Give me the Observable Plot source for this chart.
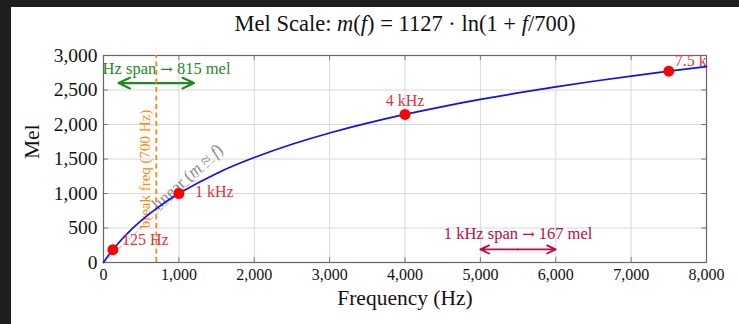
<!DOCTYPE html>
<html>
<head>
<meta charset="utf-8">
<script src="https://cdn.jsdelivr.net/npm/d3@7"></script>
<script src="https://cdn.jsdelivr.net/npm/@observablehq/plot@0.6"></script>
<style>
  html, body { margin: 0; padding: 0; background: #1e1e1e; }
  #wrap { position: absolute; left: 11px; top: 7px; width: 728px; height: 317px; background: white; }
  svg { overflow: visible; }
</style>
</head>
<body>
<div id="wrap"></div>
<script>
// Curve samples (Hz -> mel)
const freqHz = [0, 50, 125, 250, 375, 500, 700, 1000, 1500, 2000, 2500, 3000, 3500, 4000, 4500, 5000, 5500, 6000, 6500, 7000, 7500, 8000];
const melVal = [0, 78, 185, 344, 484, 607, 781, 1000, 1291, 1521, 1713, 1877, 2019, 2146, 2260, 2364, 2458, 2546, 2627, 2702, 2773, 2840];

// Highlighted points
const ptFreq = [125, 1000, 4000, 7500];
const ptMel = [185, 1000, 2146, 2773];
const ptLabel = ["125 Hz", "1 kHz", "4 kHz", "7.5 kHz"];

// Ticks
const xTicks = [0, 1000, 2000, 3000, 4000, 5000, 6000, 7000, 8000];
const yTicks = [0, 500, 1000, 1500, 2000, 2500, 3000];

// Annotations
const breakFreq = 700;
const linearRef = [{f: 0, m: 0}, {f: 1500, m: 1500}];
const greenSpan = {f0: 200, f1: 1200, m: 2600, label: "1 kHz span → 815 mel"};
const purpleSpan = {f0: 5000, f1: 6000, m: 190, label: "1 kHz span → 167 mel"};

const titleText = "Mel Scale: m(f) = 1127 · ln(1 + f/700)";
const linearText = "linear (m ≈ f)";

const curve = freqHz.map((f, i) => ({f, m: melVal[i]}));
const pts = ptFreq.map((f, i) => ({f, m: ptMel[i], label: ptLabel[i]}));

const RED_T = "#e0343c";
const GREEN = "#1f8a1f";
const ORANGE = "#ff8a10";
const PURPLE = "#bf0a4a";
const fmt = d3.format(",");

const labelOpts = [
  {dx: 9, dy: -10, textAnchor: "start"},
  {dx: 16, dy: -2, textAnchor: "start"},
  {dx: 0, dy: -14, textAnchor: "middle"},
  {dx: 6, dy: -10, textAnchor: "start"}
];

const chart = Plot.plot({
  width: 728,
  height: 317,
  marginLeft: 92,
  marginRight: 33,
  marginTop: 48,
  marginBottom: 62,
  style: {fontFamily: "'Liberation Serif', serif", background: "white", color: "#111"},
  x: {type: "linear", domain: [0, 8000]},
  y: {type: "linear", domain: [0, 3000]},
  marks: [
    Plot.gridX(xTicks, {stroke: "#d8d8d8", strokeOpacity: 1}),
    Plot.gridY(yTicks, {stroke: "#d8d8d8", strokeOpacity: 1}),
    Plot.axisX(xTicks, {tickSize: 0, tickPadding: 6, fontSize: 16, tickFormat: fmt, label: null}),
    Plot.axisY(yTicks, {tickSize: 0, tickPadding: 6, fontSize: 19.5, tickFormat: fmt, label: null}),
    // inner tick marks
    Plot.ruleX(xTicks, {y1: 0, y2: 70, stroke: "#777"}),
    Plot.ruleX(xTicks, {y1: 2930, y2: 3000, stroke: "#777"}),
    Plot.ruleY(yTicks, {x1: 0, x2: 65, stroke: "#777"}),
    Plot.ruleY(yTicks, {x1: 7935, x2: 8000, stroke: "#777"}),
    Plot.frame({stroke: "#666", strokeWidth: 1.2}),
    // linear reference
    Plot.line(linearRef, {x: "f", y: "m", stroke: "#aaa", strokeWidth: 1, strokeDasharray: "4,3"}),
    Plot.text([linearText], {x: 1110, y: 1240, rotate: -42, fill: "#8a8a8a", fontSize: 17}),
    // green span annotation
    Plot.arrow([greenSpan], {x1: d => (d.f0 + d.f1) / 2, x2: "f0", y1: "m", y2: "m", stroke: GREEN, strokeWidth: 2.2, headLength: 9, headAngle: 50}),
    Plot.arrow([greenSpan], {x1: d => (d.f0 + d.f1) / 2, x2: "f1", y1: "m", y2: "m", stroke: GREEN, strokeWidth: 2.2, headLength: 9, headAngle: 50}),
    Plot.text([greenSpan], {x: d => (d.f0 + d.f1) / 2, y: 2810, text: "label", fill: GREEN, fontSize: 16.5, clip: "frame"}),
    // break frequency
    Plot.ruleX([breakFreq], {y1: 0, y2: 3000, stroke: ORANGE, strokeWidth: 1.8, strokeDasharray: "5,3.5"}),
    Plot.text(["break freq (700 Hz)"], {x: 555, y: 1355, rotate: -90, fill: ORANGE, fontSize: 15}),
    // purple span annotation
    Plot.arrow([purpleSpan], {x1: d => (d.f0 + d.f1) / 2, x2: "f0", y1: "m", y2: "m", stroke: PURPLE, strokeWidth: 1.8, headLength: 8, headAngle: 50}),
    Plot.arrow([purpleSpan], {x1: d => (d.f0 + d.f1) / 2, x2: "f1", y1: "m", y2: "m", stroke: PURPLE, strokeWidth: 1.8, headLength: 8, headAngle: 50}),
    Plot.text([purpleSpan], {x: d => (d.f0 + d.f1) / 2, y: 420, text: "label", fill: PURPLE, fontSize: 16.5}),
    // mel curve
    Plot.line(curve, {x: "f", y: "m", stroke: "#1010ee", strokeWidth: 1.7, curve: "natural"}),
    Plot.dot(pts, {x: "f", y: "m", r: 5.5, fill: "#ff0000", stroke: "none"}),
    ...pts.map((p, i) => Plot.text([p], {x: "f", y: "m", text: "label", fill: RED_T, fontSize: 16, clip: "frame", ...labelOpts[i]})),
    // axis labels and title
    Plot.text(["Mel"], {frameAnchor: "left", dx: -71, rotate: -90, fontSize: 21.5, fill: "#111"}),
    Plot.text(["Frequency (Hz)"], {frameAnchor: "bottom", dy: 42, fontSize: 21.5, fill: "#111"}),
    Plot.text([titleText], {frameAnchor: "top", dy: -40, fontSize: 22.5, fill: "#111"})
  ]
});

// italicize math variables and widen arrows
function richText(svg, content, parts) {
  d3.select(svg).selectAll("text").filter(function() { return this.textContent === content; }).each(function() {
    const t = d3.select(this);
    t.text(null);
    parts.forEach(([s, style]) => {
      const ts = t.append("tspan").text(s);
      if (style === 1) ts.attr("font-style", "italic");
      if (style === 2) ts.attr("font-family", "'DejaVu Serif', serif").attr("font-size", "0.9em");
    });
  });
}
richText(chart, titleText, [["Mel Scale: ", 0], ["m", 1], ["(", 0], ["f", 1], [") = 1127 · ln(1 + ", 0], ["f", 1], ["/700)", 0]]);
richText(chart, linearText, [["linear (", 0], ["m", 1], [" ≈ ", 0], ["f", 1], [")", 0]]);
richText(chart, greenSpan.label, [["1 kHz span ", 0], ["→", 2], [" 815 mel", 0]]);
richText(chart, purpleSpan.label, [["1 kHz span ", 0], ["→", 2], [" 167 mel", 0]]);

document.getElementById("wrap").appendChild(chart);
</script>
</body>
</html>
